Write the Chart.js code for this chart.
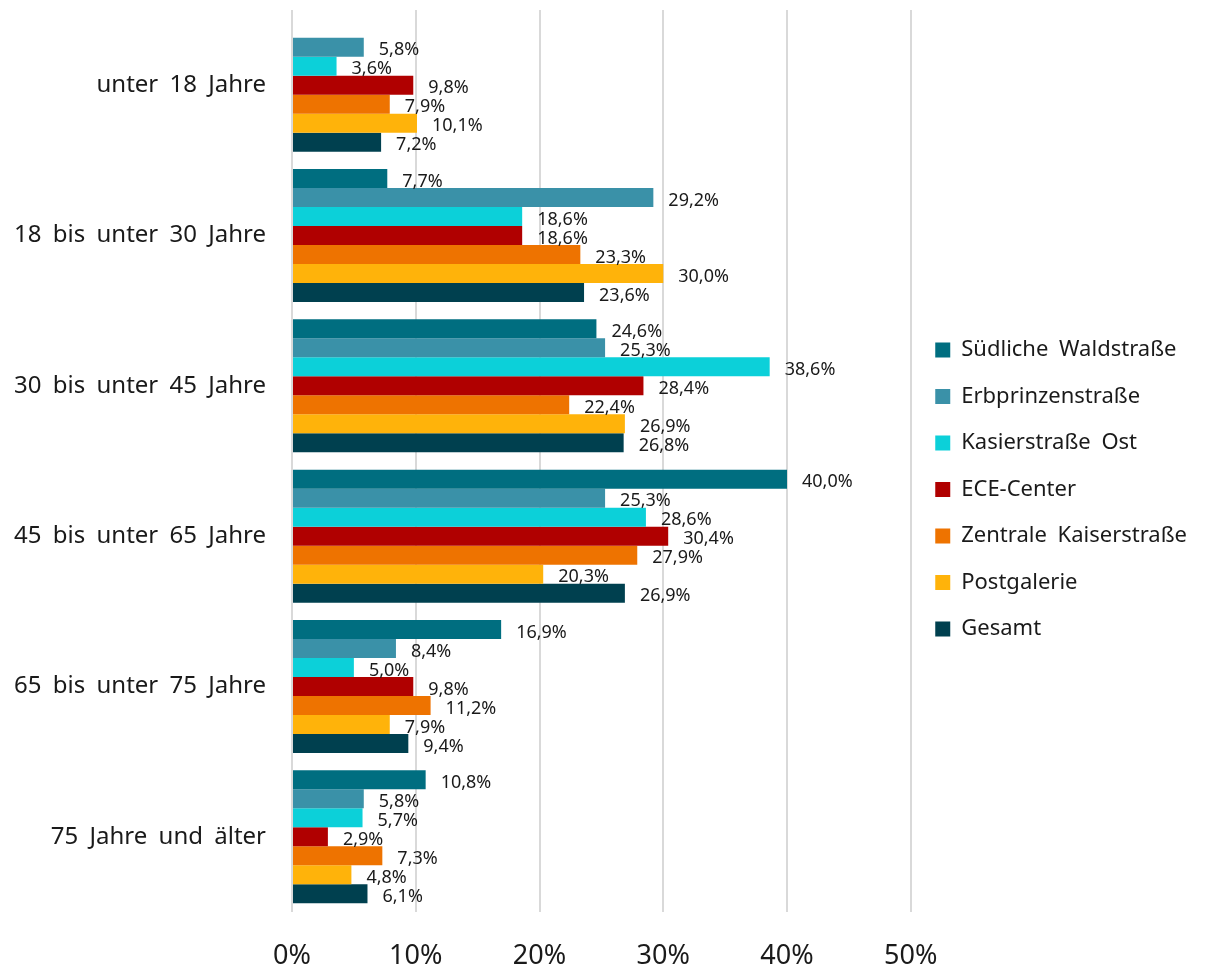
<!DOCTYPE html>
<html lang="de">
<head>
    <meta charset="UTF-8">
    <title>Altersstruktur nach Standort</title>
    <script src="https://cdn.jsdelivr.net/npm/chart.js"></script>
    <style>
        html, body { margin: 0; padding: 0; background: #fff; }
        #wrap { width: 1205px; height: 969px; }
    </style>
</head>
<body>
    <div id="wrap">
        <canvas id="ageChart" width="1205" height="969"></canvas>
    </div>

    <script>
        const categories = ['unter 18 Jahre', '18 bis unter 30 Jahre', '30 bis unter 45 Jahre', '45 bis unter 65 Jahre', '65 bis unter 75 Jahre', '75 Jahre und älter'];
        const seriesNames = ['Südliche Waldstraße', 'Erbprinzenstraße', 'Kasierstraße Ost', 'ECE-Center', 'Zentrale Kaiserstraße', 'Postgalerie', 'Gesamt'];

        const suedlicheWaldstrasse = [null, 7.7, 24.6, 40.0, 16.9, 10.8];
        const erbprinzenstrasse    = [5.8, 29.2, 25.3, 25.3, 8.4, 5.8];
        const kasierstrasseOst     = [3.6, 18.6, 38.6, 28.6, 5.0, 5.7];
        const eceCenter            = [9.8, 18.6, 28.4, 30.4, 9.8, 2.9];
        const zentraleKaiserstr    = [7.9, 23.3, 22.4, 27.9, 11.2, 7.3];
        const postgalerie          = [10.1, 30.0, 26.9, 20.3, 7.9, 4.8];
        const gesamt               = [7.2, 23.6, 26.8, 26.9, 9.4, 6.1];

        const xTicks = [0, 10, 20, 30, 40, 50];

        const seriesValues = [suedlicheWaldstrasse, erbprinzenstrasse, kasierstrasseOst, eceCenter, zentraleKaiserstr, postgalerie, gesamt];
        const colors = ['#006e80', '#3a91a8', '#0cd0d9', '#b00000', '#ee7300', '#ffb30a', '#00404f'];

        const FONT = '"Noto Sans", "Open Sans", sans-serif';

        // wider word gaps like the original
        const spacingPlugin = {
            id: 'spacing',
            beforeLayout(chart) { chart.ctx.wordSpacing = '5px'; },
            beforeDraw(chart) { chart.ctx.wordSpacing = '5px'; }
        };

        // value labels right of each bar
        const valueLabels = {
            id: 'valueLabels',
            afterDatasetsDraw(chart) {
                const ctx = chart.ctx;
                ctx.save();
                ctx.font = '18px ' + FONT;
                ctx.fillStyle = '#1a1a1a';
                ctx.textAlign = 'left';
                ctx.textBaseline = 'middle';
                chart.data.datasets.forEach((ds, i) => {
                    const meta = chart.getDatasetMeta(i);
                    meta.data.forEach((bar, j) => {
                        const v = ds.data[j];
                        if (v === null || v === undefined) return;
                        ctx.fillText(v.toFixed(1).replace('.', ',') + '%', bar.x + 15, bar.y + 3);
                    });
                });
                ctx.restore();
            }
        };

        const ctx = document.getElementById('ageChart').getContext('2d');
        const ageChart = new Chart(ctx, {
            type: 'bar',
            data: {
                labels: categories,
                datasets: seriesNames.map((name, i) => ({
                    label: name,
                    data: seriesValues[i],
                    backgroundColor: colors[i],
                    borderWidth: 0,
                    barPercentage: 1.0,
                    categoryPercentage: 0.885
                }))
            },
            options: {
                indexAxis: 'y',
                responsive: false,
                animation: false,
                layout: { padding: { top: 10, right: 8, left: 0, bottom: 0 } },
                scales: {
                    x: {
                        min: 0,
                        max: 50,
                        afterBuildTicks(scale) { scale.ticks = xTicks.map(v => ({ value: v })); },
                        afterFit(scale) { scale.height = 57; },
                        grid: { color: '#d9d9d9', lineWidth: 2, drawTicks: false },
                        border: { display: false },
                        ticks: {
                            padding: 28,
                            color: '#1a1a1a',
                            font: { family: FONT, size: 27 },
                            callback: v => v + '%'
                        }
                    },
                    y: {
                        afterFit(scale) {
                            scale.width = 292;
                            scale.paddingTop = 0;
                            scale.paddingBottom = 0;
                        },
                        grid: { display: false },
                        border: { display: false },
                        ticks: {
                            padding: 18,
                            color: '#1a1a1a',
                            font: { family: FONT, size: 24 }
                        }
                    }
                },
                plugins: {
                    legend: {
                        position: 'right',
                        align: 'center',
                        labels: {
                            boxWidth: 15,
                            boxHeight: 15,
                            padding: 24.5,
                            color: '#1a1a1a',
                            font: { family: FONT, size: 22 }
                        }
                    },
                    tooltip: { enabled: false }
                }
            },
            plugins: [spacingPlugin, valueLabels]
        });
    </script>
</body>
</html>
